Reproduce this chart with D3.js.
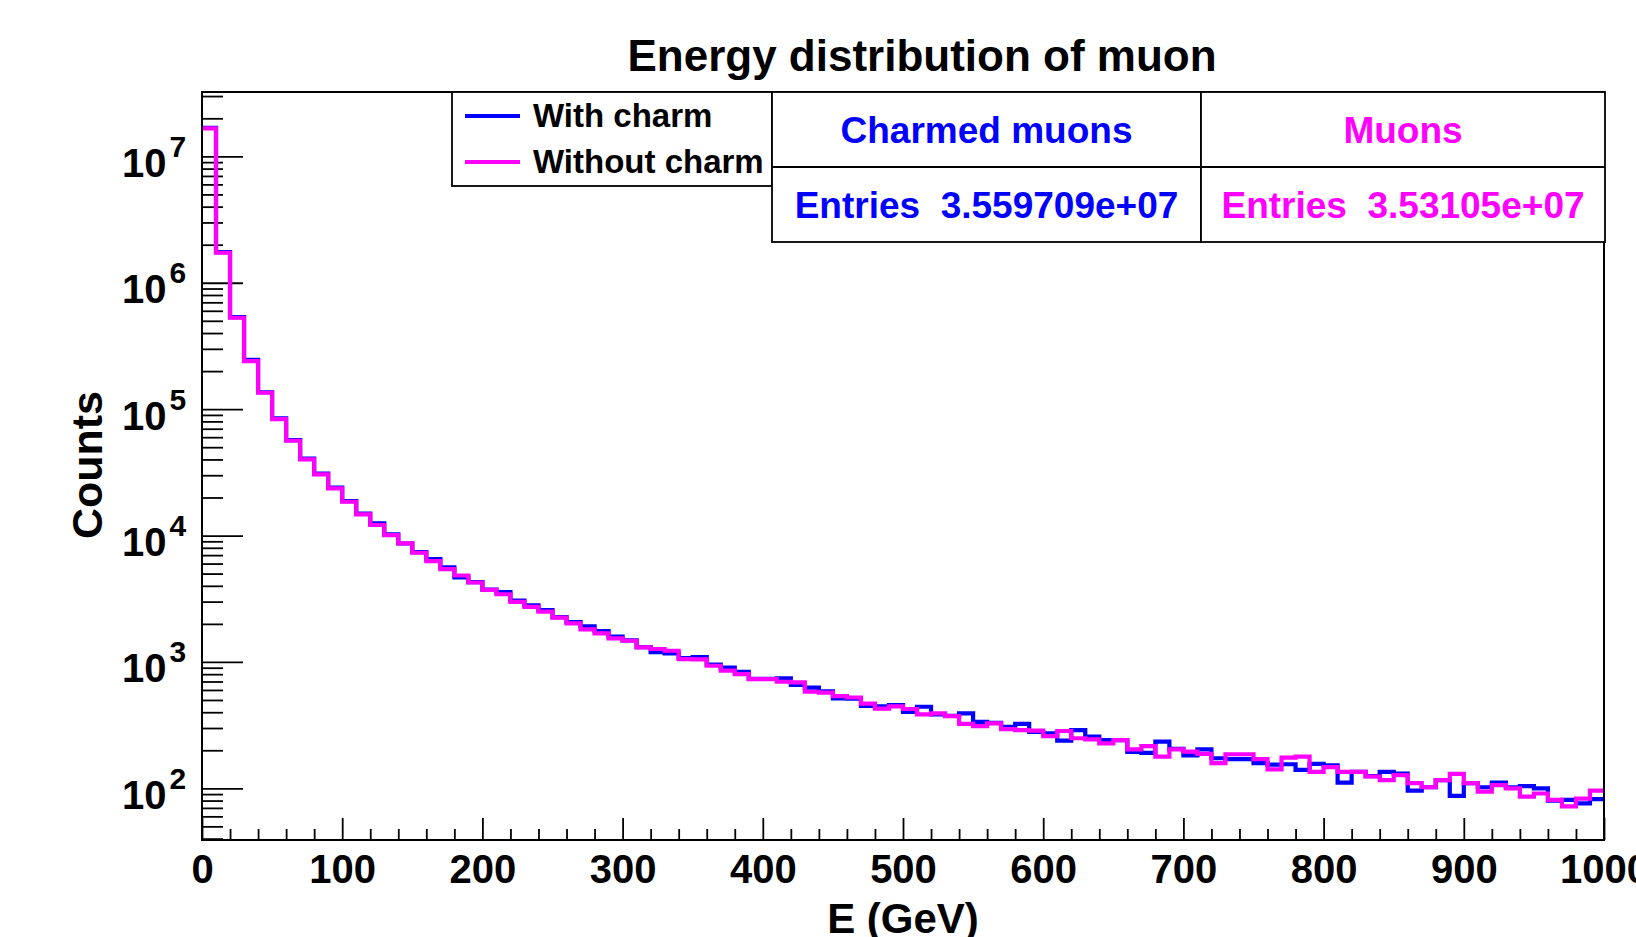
<!DOCTYPE html>
<html>
<head>
<meta charset="utf-8">
<script src="https://cdn.jsdelivr.net/npm/d3@7/dist/d3.min.js"></script>
<style>
  html, body { margin: 0; padding: 0; background: #fff; overflow: hidden; }
  svg { display: block; font-family: "Liberation Sans", Arial, Helvetica, sans-serif; font-weight: bold; }
</style>
</head>
<body>
<figure id="hist" style="margin:0"></figure>
<script>
// bin lower edges (10 GeV bins from 0 to 1000)
const binLow = d3.range(0, 1000, 10);

// "With charm" (blue)
const withCharm = [
  1.68e7, 1.745e6, 5.34e5, 2.45e5, 1.36e5, 8.45e4, 5.68e4, 4.06e4, 3.09e4, 2.39e4,
  1.87e4, 1.49e4, 1.249e4, 1.02e4, 8650, 7400, 6520, 5600, 4670, 4280,
  3740, 3570, 3050, 2800, 2570, 2260, 2070, 1910, 1756, 1583,
  1480, 1310, 1197, 1170, 1074, 1094, 951, 900, 836, 735,
  735, 742, 657, 625, 585, 515, 512, 448, 445, 456,
  402, 442, 385, 375, 392, 336, 330, 307, 323, 279,
  272, 238, 289, 256, 241, 241, 194, 191, 234, 205,
  182, 203, 173, 170, 170, 158, 154, 155, 140, 156,
  152, 111, 135, 125, 135, 131, 96, 102, 116, 87,
  110, 102, 111, 102, 104, 100, 80, 81, 76, 82
];

// "Without charm" (magenta)
const withoutCharm = [
  1.665e7, 1.727e6, 5.285e5, 2.402e5, 1.348e5, 8.35e4, 5.62e4, 4.007e4, 3.05e4, 2.363e4,
  1.851e4, 1.472e4, 1.211e4, 1.009e4, 8680, 7310, 6280, 5430, 4830, 4250,
  3710, 3430, 2990, 2730, 2500, 2240, 2020, 1810, 1684, 1537,
  1471, 1305, 1265, 1226, 1054, 1048, 933, 852, 802, 732,
  732, 697, 690, 581, 571, 537, 523, 467, 427, 445,
  424, 385, 392, 373, 323, 311, 327, 294, 289, 286,
  259, 284, 249, 244, 227, 241, 203, 216, 178, 203,
  195, 187, 158, 186, 186, 170, 141, 175, 178, 135,
  147, 135, 135, 124, 116, 127, 110, 102, 116, 130,
  110, 94, 106, 100, 86, 91, 81, 72, 83, 96
];

const xMajor = d3.range(0, 1001, 100);
const xMinor = d3.range(0, 1001, 20).filter(v => v % 100 !== 0);
const yMajor = [1e2, 1e3, 1e4, 1e5, 1e6, 1e7];
const yMinor = [40, 50, 60, 70, 80, 90, 2e2, 3e2, 4e2, 5e2, 6e2, 7e2, 8e2, 9e2,
  2e3, 3e3, 4e3, 5e3, 6e3, 7e3, 8e3, 9e3, 2e4, 3e4, 4e4, 5e4, 6e4, 7e4, 8e4, 9e4,
  2e5, 3e5, 4e5, 5e5, 6e5, 7e5, 8e5, 9e5, 2e6, 3e6, 4e6, 5e6, 6e6, 7e6, 8e6, 9e6, 2e7, 3e7];

const stats = [
  { name: "Charmed muons", entries: "3.559709e+07", color: "#0000ff" },
  { name: "Muons", entries: "3.53105e+07", color: "#ff00ff" }
];

const W = 1636, H = 937;
const margin = { left: 202, top: 92, right: 32, bottom: 97 };
const width = W - margin.left - margin.right;
const height = H - margin.top - margin.bottom;

const svg = d3.select("figure#hist").append("svg")
  .attr("width", W).attr("height", H);

const g = svg.append("g").attr("transform", `translate(${margin.left},${margin.top})`);

const x = d3.scaleLinear().domain([0, 1000]).range([0, width]);
const y = d3.scaleLog().domain([39, 3.23e7]).range([height, 0]);

// x axis minor + major ticks (inside)
g.append("g").attr("transform", `translate(0,${height})`)
  .call(d3.axisBottom(x).tickValues(xMinor).tickSize(-11).tickSizeOuter(0).tickFormat(""))
  .call(a => a.select(".domain").remove());
const xAx = g.append("g").attr("transform", `translate(0,${height})`)
  .call(d3.axisBottom(x).tickValues(xMajor).tickSize(-22).tickSizeOuter(0).tickFormat(d3.format("d")));
xAx.select(".domain").remove();
xAx.selectAll("text").attr("y", 43).attr("dy", null)
  .style("font-size", "40px").style("fill", "#000");

// y axis minor + major ticks
g.append("g")
  .call(d3.axisLeft(y).tickValues(yMinor).tickSize(-21).tickSizeOuter(0).tickFormat(""))
  .call(a => a.select(".domain").remove());
const yAx = g.append("g")
  .call(d3.axisLeft(y).tickValues(yMajor).tickSize(-41).tickSizeOuter(0).tickFormat(""));
yAx.select(".domain").remove();
yAx.selectAll(".tick").each(function(d) {
  const t = d3.select(this).append("text")
    .attr("text-anchor", "start").attr("fill", "#000");
  t.append("tspan").attr("x", -80).attr("y", 20).style("font-size", "40px").text("10");
  t.append("tspan").attr("y", 0).attr("dx", 3).style("font-size", "30px").text(Math.round(Math.log10(d)));
});

g.selectAll(".tick line").attr("stroke", "#000").attr("stroke-width", 1.8);

// histograms
const line = d3.line().curve(d3.curveStepAfter).x(d => x(d[0])).y(d => y(d[1]));
function steps(vals) {
  const pts = binLow.map((b, i) => [b, vals[i]]);
  pts.push([1000, vals[vals.length - 1]]);
  return pts;
}
g.append("path").attr("d", line(steps(withCharm)))
  .attr("fill", "none").attr("stroke", "#0000ff").attr("stroke-width", 4.2);
g.append("path").attr("d", line(steps(withoutCharm)))
  .attr("fill", "none").attr("stroke", "#ff00ff").attr("stroke-width", 4.2);

// frame
g.append("rect").attr("width", width).attr("height", height)
  .attr("fill", "none").attr("stroke", "#000").attr("stroke-width", 2);

// legend
const leg = svg.append("g");
leg.append("rect").attr("x", 452).attr("y", 92).attr("width", 320).attr("height", 94)
  .attr("fill", "#fff").attr("stroke", "#000").attr("stroke-width", 1.8);
[["With charm", "#0000ff", 116], ["Without charm", "#ff00ff", 162]].forEach(([lab, c, yy]) => {
  leg.append("line").attr("x1", 465).attr("x2", 520).attr("y1", yy).attr("y2", yy)
    .attr("stroke", c).attr("stroke-width", 4);
  leg.append("text").attr("x", 533).attr("y", yy + 11).style("font-size", "33px").text(lab);
});

// stats boxes
const sx = [772, 1201, 1605];
stats.forEach((s, i) => {
  const bx = sx[i], bw = sx[i + 1] - sx[i];
  svg.append("rect").attr("x", bx).attr("y", 92).attr("width", bw).attr("height", 150)
    .attr("fill", "#fff").attr("stroke", "#000").attr("stroke-width", 1.8);
  svg.append("line").attr("x1", bx).attr("x2", bx + bw).attr("y1", 167).attr("y2", 167)
    .attr("stroke", "#000").attr("stroke-width", 1.8);
  svg.append("text").attr("x", bx + bw / 2).attr("y", 143).attr("text-anchor", "middle")
    .attr("fill", s.color).style("font-size", "37px").text(s.name);
  svg.append("text").attr("x", bx + bw / 2).attr("y", 218).attr("text-anchor", "middle")
    .attr("fill", s.color).style("font-size", "37px").style("white-space", "pre")
    .text("Entries  " + s.entries);
});

// titles
svg.append("text").attr("x", 922).attr("y", 71).attr("text-anchor", "middle")
  .style("font-size", "44px").text("Energy distribution of muon");
svg.append("text").attr("x", 903).attr("y", 933).attr("text-anchor", "middle")
  .style("font-size", "42px").text("E (GeV)");
svg.append("text").attr("transform", "translate(102,465) rotate(-90)").attr("text-anchor", "middle")
  .style("font-size", "43px").text("Counts");
</script>
</body>
</html>
